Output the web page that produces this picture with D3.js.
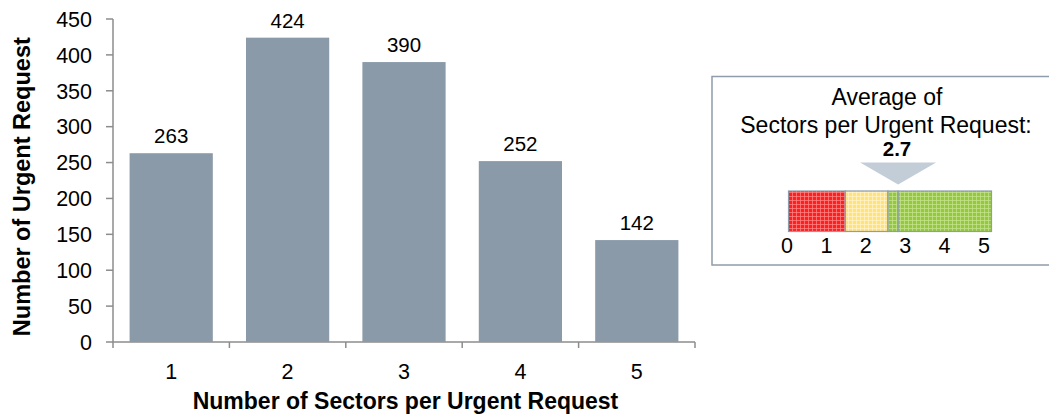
<!DOCTYPE html>
<html><head><meta charset="utf-8">
<script src="https://cdn.jsdelivr.net/npm/d3@7"></script>
<style>body{margin:0;background:#fff}svg{display:block}text{font-family:"Liberation Sans",Arial,sans-serif;fill:#000}</style>
</head><body><svg id="c" width="1049" height="414"></svg>
<script>
const categories = ["1","2","3","4","5"];
const counts = [263,424,390,252,142];
const yTicks = [0,50,100,150,200,250,300,350,400,450];
const xTitle = "Number of Sectors per Urgent Request";
const yTitle = "Number of Urgent Request";
const boxLines = ["Average of","Sectors per Urgent Request:"];
const averageValue = 2.7;
const gaugeSegments = [
  {from:0,to:1.4,key:"red"},
  {from:1.4,to:2.45,key:"yellow"},
  {from:2.45,to:2.7,key:"green"},
  {from:2.7,to:5,key:"green"}
];
const gaugeTicks = [0,1,2,3,4,5];

const svg = d3.select("#c");
function txt(g, x, y, s, size, opts={}) {
  return g.append("text")
    .attr("x", x).attr("y", y)
    .attr("text-anchor", opts.anchor||"middle")
    .attr("font-size", size)
    .attr("font-weight", opts.bold?"bold":"normal")
    .text(s);
}

// patterns
const defs = svg.append("defs");
const pcols = {red:["#ff1f1f","#ff8a8a"],yellow:["#ffe27a","#fff6cf"],green:["#94c83e","#c6e591"]};
Object.entries(pcols).forEach(([k,[base,line]])=>{
  const p = defs.append("pattern").attr("id","p-"+k).attr("patternUnits","userSpaceOnUse").attr("width",4).attr("height",4);
  p.append("rect").attr("width",4).attr("height",4).attr("fill",base);
  p.append("rect").attr("x",0).attr("y",0).attr("width",4).attr("height",1).attr("fill",line).attr("opacity",0.7);
  p.append("rect").attr("x",0).attr("y",0).attr("width",1).attr("height",4).attr("fill",line).attr("opacity",0.7);
});

// main chart
const x = d3.scaleBand().domain(categories).range([113,695]).paddingInner(0.285).paddingOuter(0.1425);
const y = d3.scaleLinear().domain([0,450]).range([342,19]);
const axisColor = "#8c8c8c";

const gx = svg.append("g").attr("transform","translate(0,342)");
gx.append("line").attr("x1",113).attr("x2",695).attr("stroke",axisColor).attr("stroke-width",1.5);
const bandEdges = categories.map(c=>x(c)-x.step()*x.paddingInner()/2).concat([695]);
gx.selectAll("line.t").data(bandEdges).join("line").attr("class","t")
  .attr("x1",d=>d).attr("x2",d=>d).attr("y1",0).attr("y2",6).attr("stroke",axisColor).attr("stroke-width",1.5);

const gy = svg.append("g");
gy.append("line").attr("x1",113).attr("x2",113).attr("y1",y(0)).attr("y2",y(450)).attr("stroke",axisColor).attr("stroke-width",1.5);
gy.selectAll("line.t").data(yTicks).join("line").attr("class","t")
  .attr("x1",106).attr("x2",113).attr("y1",d=>y(d)).attr("y2",d=>y(d)).attr("stroke",axisColor).attr("stroke-width",1.5);
yTicks.forEach(t=>txt(gy,92,y(t)+7.8,String(t),21.5,{anchor:"end"}));

svg.selectAll("rect.bar").data(counts).join("rect").attr("class","bar")
  .attr("x",(d,i)=>x(categories[i])).attr("width",x.bandwidth())
  .attr("y",d=>y(d)).attr("height",d=>y(0)-y(d)).attr("fill","#8a9aa9");
counts.forEach((d,i)=>txt(svg,x(categories[i])+x.bandwidth()/2,y(d)-10,String(d),20.5));
categories.forEach(c=>txt(svg,x(c)+x.bandwidth()/2,378.5,c,21.5));

txt(svg,405.5,408.5,xTitle,23,{bold:true});
svg.append("text").attr("transform","translate(30,186.7) rotate(-90)").attr("text-anchor","middle")
  .attr("font-size",23.5).attr("font-weight","bold").text(yTitle);

// info box
const box = svg.append("g");
box.append("rect").attr("x",712).attr("y",76.5).attr("width",360).attr("height",188.5)
  .attr("fill","#fff").attr("stroke","#8e9cab").attr("stroke-width",1.5);
txt(box,887,105,boxLines[0],23);
txt(box,886,133,boxLines[1],23);
txt(box,897,156,averageValue.toFixed(1),20.5,{bold:true});

const gs = d3.scaleLinear().domain([0,5]).range([788.5,991.5]);
const gl = d3.scaleLinear().domain([0,5]).range([787,984]);
box.append("path")
  .attr("d",`M${gs(averageValue)-38},162.5 L${gs(averageValue)+38},162.5 L${gs(averageValue)},184.5 Z`)
  .attr("fill","#c2cdd7");
box.selectAll("rect.seg").data(gaugeSegments).join("rect").attr("class","seg")
  .attr("x",d=>gs(d.from)).attr("width",d=>gs(d.to)-gs(d.from))
  .attr("y",191).attr("height",40.5)
  .attr("fill",d=>`url(#p-${d.key})`).attr("stroke","#8e9cab").attr("stroke-width",1.2);
gaugeTicks.forEach(t=>txt(box,gl(t),253,String(t),21.5));
</script></body></html>
